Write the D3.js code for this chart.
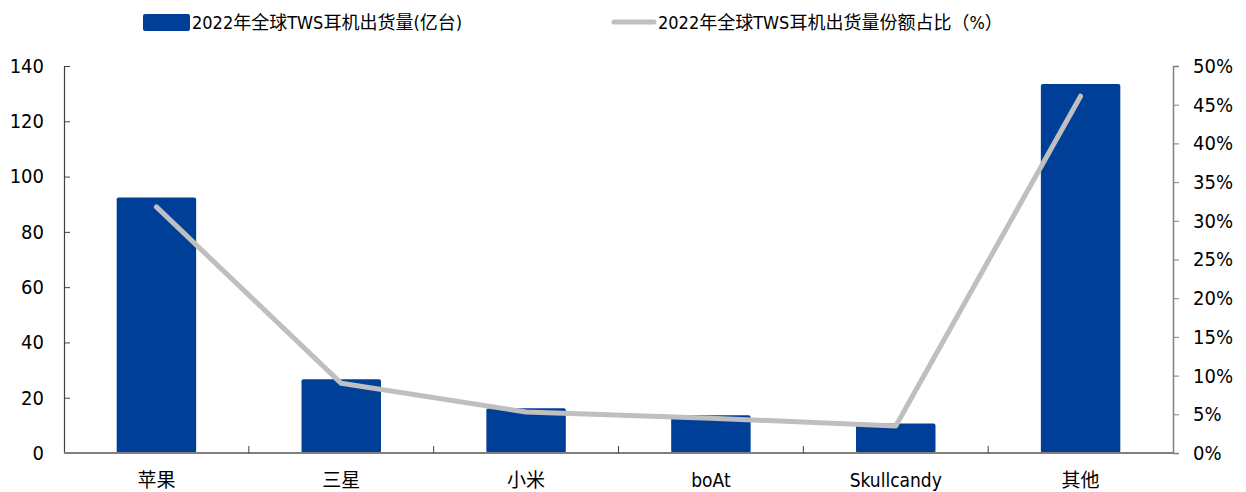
<!DOCTYPE html>
<html>
<head>
<meta charset="utf-8">
<script src="https://cdn.jsdelivr.net/npm/d3@7"></script>
<style>
  body { margin: 0; background: #fff; }
  text { font-family: "DejaVu Sans Condensed", "DejaVu Sans", "Noto Sans CJK SC", sans-serif; fill: #000; }
</style>
</head>
<body>
<script>
// chart data
var categories = ['苹果', '三星', '小米', 'boAt', 'Skullcandy', '其他'];
var shipments = [92.4, 26.7, 16.2, 13.7, 10.7, 133.5];   // 亿台
var shares = [31.8, 9.0, 5.3, 4.5, 3.5, 46.1];            // %
var leftTicks = [0, 20, 40, 60, 80, 100, 120, 140];
var rightTicks = [0, 5, 10, 15, 20, 25, 30, 35, 40, 45, 50];
var barLabel = '2022年全球TWS耳机出货量(亿台)';
var lineLabel = '2022年全球TWS耳机出货量份额占比（%）';

var width = 1246, height = 492;
var m = {left: 64, right: 1173, top: 66, bottom: 453};

var svg = d3.select('body').append('svg')
	.attr('width', width)
	.attr('height', height);

var x = d3.scaleBand().domain(categories).range([m.left, m.right]).paddingInner(0).paddingOuter(0);
var yL = d3.scaleLinear().domain([0, 140]).range([m.bottom, m.top]);
var yR = d3.scaleLinear().domain([0, 50]).range([m.bottom, m.top]);

var barW = x.bandwidth() * 0.43;

// bars
svg.append('g').selectAll('rect')
	.data(categories)
	.enter().append('rect')
	.attr('x', function(d){ return x(d) + x.bandwidth()/2 - barW/2; })
	.attr('y', function(d, i){ return yL(shipments[i]); })
	.attr('width', barW)
	.attr('height', function(d, i){ return m.bottom - yL(shipments[i]); })
	.attr('rx', 2)
	.attr('fill', '#003F98');

// left axis
var gl = svg.append('g').attr('transform', 'translate(' + m.left + ',0)')
	.call(d3.axisLeft(yL).tickValues(leftTicks).tickSize(-6).tickPadding(20));
gl.select('.domain').attr('stroke', '#404040').attr('stroke-width', 1.2);
gl.selectAll('.tick line').attr('stroke', '#404040');
gl.selectAll('.tick text').style('font-size', '20px');

// right axis
var gr = svg.append('g').attr('transform', 'translate(' + m.right + ',0)')
	.call(d3.axisRight(yR).tickValues(rightTicks).tickSize(6).tickPadding(14)
		.tickFormat(function(d){ return d + '%'; }));
gr.select('.domain').attr('stroke', '#808080').attr('stroke-width', 1.5);
gr.selectAll('.tick line').attr('stroke', '#808080');
gr.selectAll('.tick text').style('font-size', '20px');

// bottom axis, ticks sit between categories
var gb = svg.append('g').attr('transform', 'translate(0,' + m.bottom + ')');
gb.append('line')
	.attr('x1', m.left).attr('x2', m.right)
	.attr('stroke', '#7f7f7f').attr('stroke-width', 2);
gb.selectAll('line.sep')
	.data(categories.slice(1))
	.enter().append('line')
	.attr('class', 'sep')
	.attr('x1', function(d){ return x(d); })
	.attr('x2', function(d){ return x(d); })
	.attr('y1', 0).attr('y2', -7)
	.attr('stroke', '#404040');
gb.selectAll('text')
	.data(categories)
	.enter().append('text')
	.attr('x', function(d){ return x(d) + x.bandwidth()/2; })
	.attr('y', 34)
	.attr('text-anchor', 'middle')
	.style('font-size', '19px')
	.text(function(d){ return d; });

// share line
var line = d3.line()
	.x(function(d, i){ return x(categories[i]) + x.bandwidth()/2; })
	.y(function(d){ return yR(d); });

svg.append('path')
	.datum(shares)
	.attr('d', line)
	.attr('fill', 'none')
	.attr('stroke', '#BFBFBF')
	.attr('stroke-width', 5)
	.attr('stroke-linecap', 'round')
	.attr('stroke-linejoin', 'round');

// legend
var lg = svg.append('g');
lg.append('rect')
	.attr('x', 143).attr('y', 14).attr('width', 47).attr('height', 17)
	.attr('rx', 2)
	.attr('fill', '#003F98');
lg.append('text')
	.attr('x', 192).attr('y', 29)
	.style('font-size', '18px')
	.text(barLabel);
lg.append('line')
	.attr('x1', 614).attr('x2', 654).attr('y1', 22).attr('y2', 22)
	.attr('stroke', '#BFBFBF').attr('stroke-width', 5)
	.attr('stroke-linecap', 'round');
lg.append('text')
	.attr('x', 658).attr('y', 29)
	.style('font-size', '18px')
	.text(lineLabel);
</script>
</body>
</html>
